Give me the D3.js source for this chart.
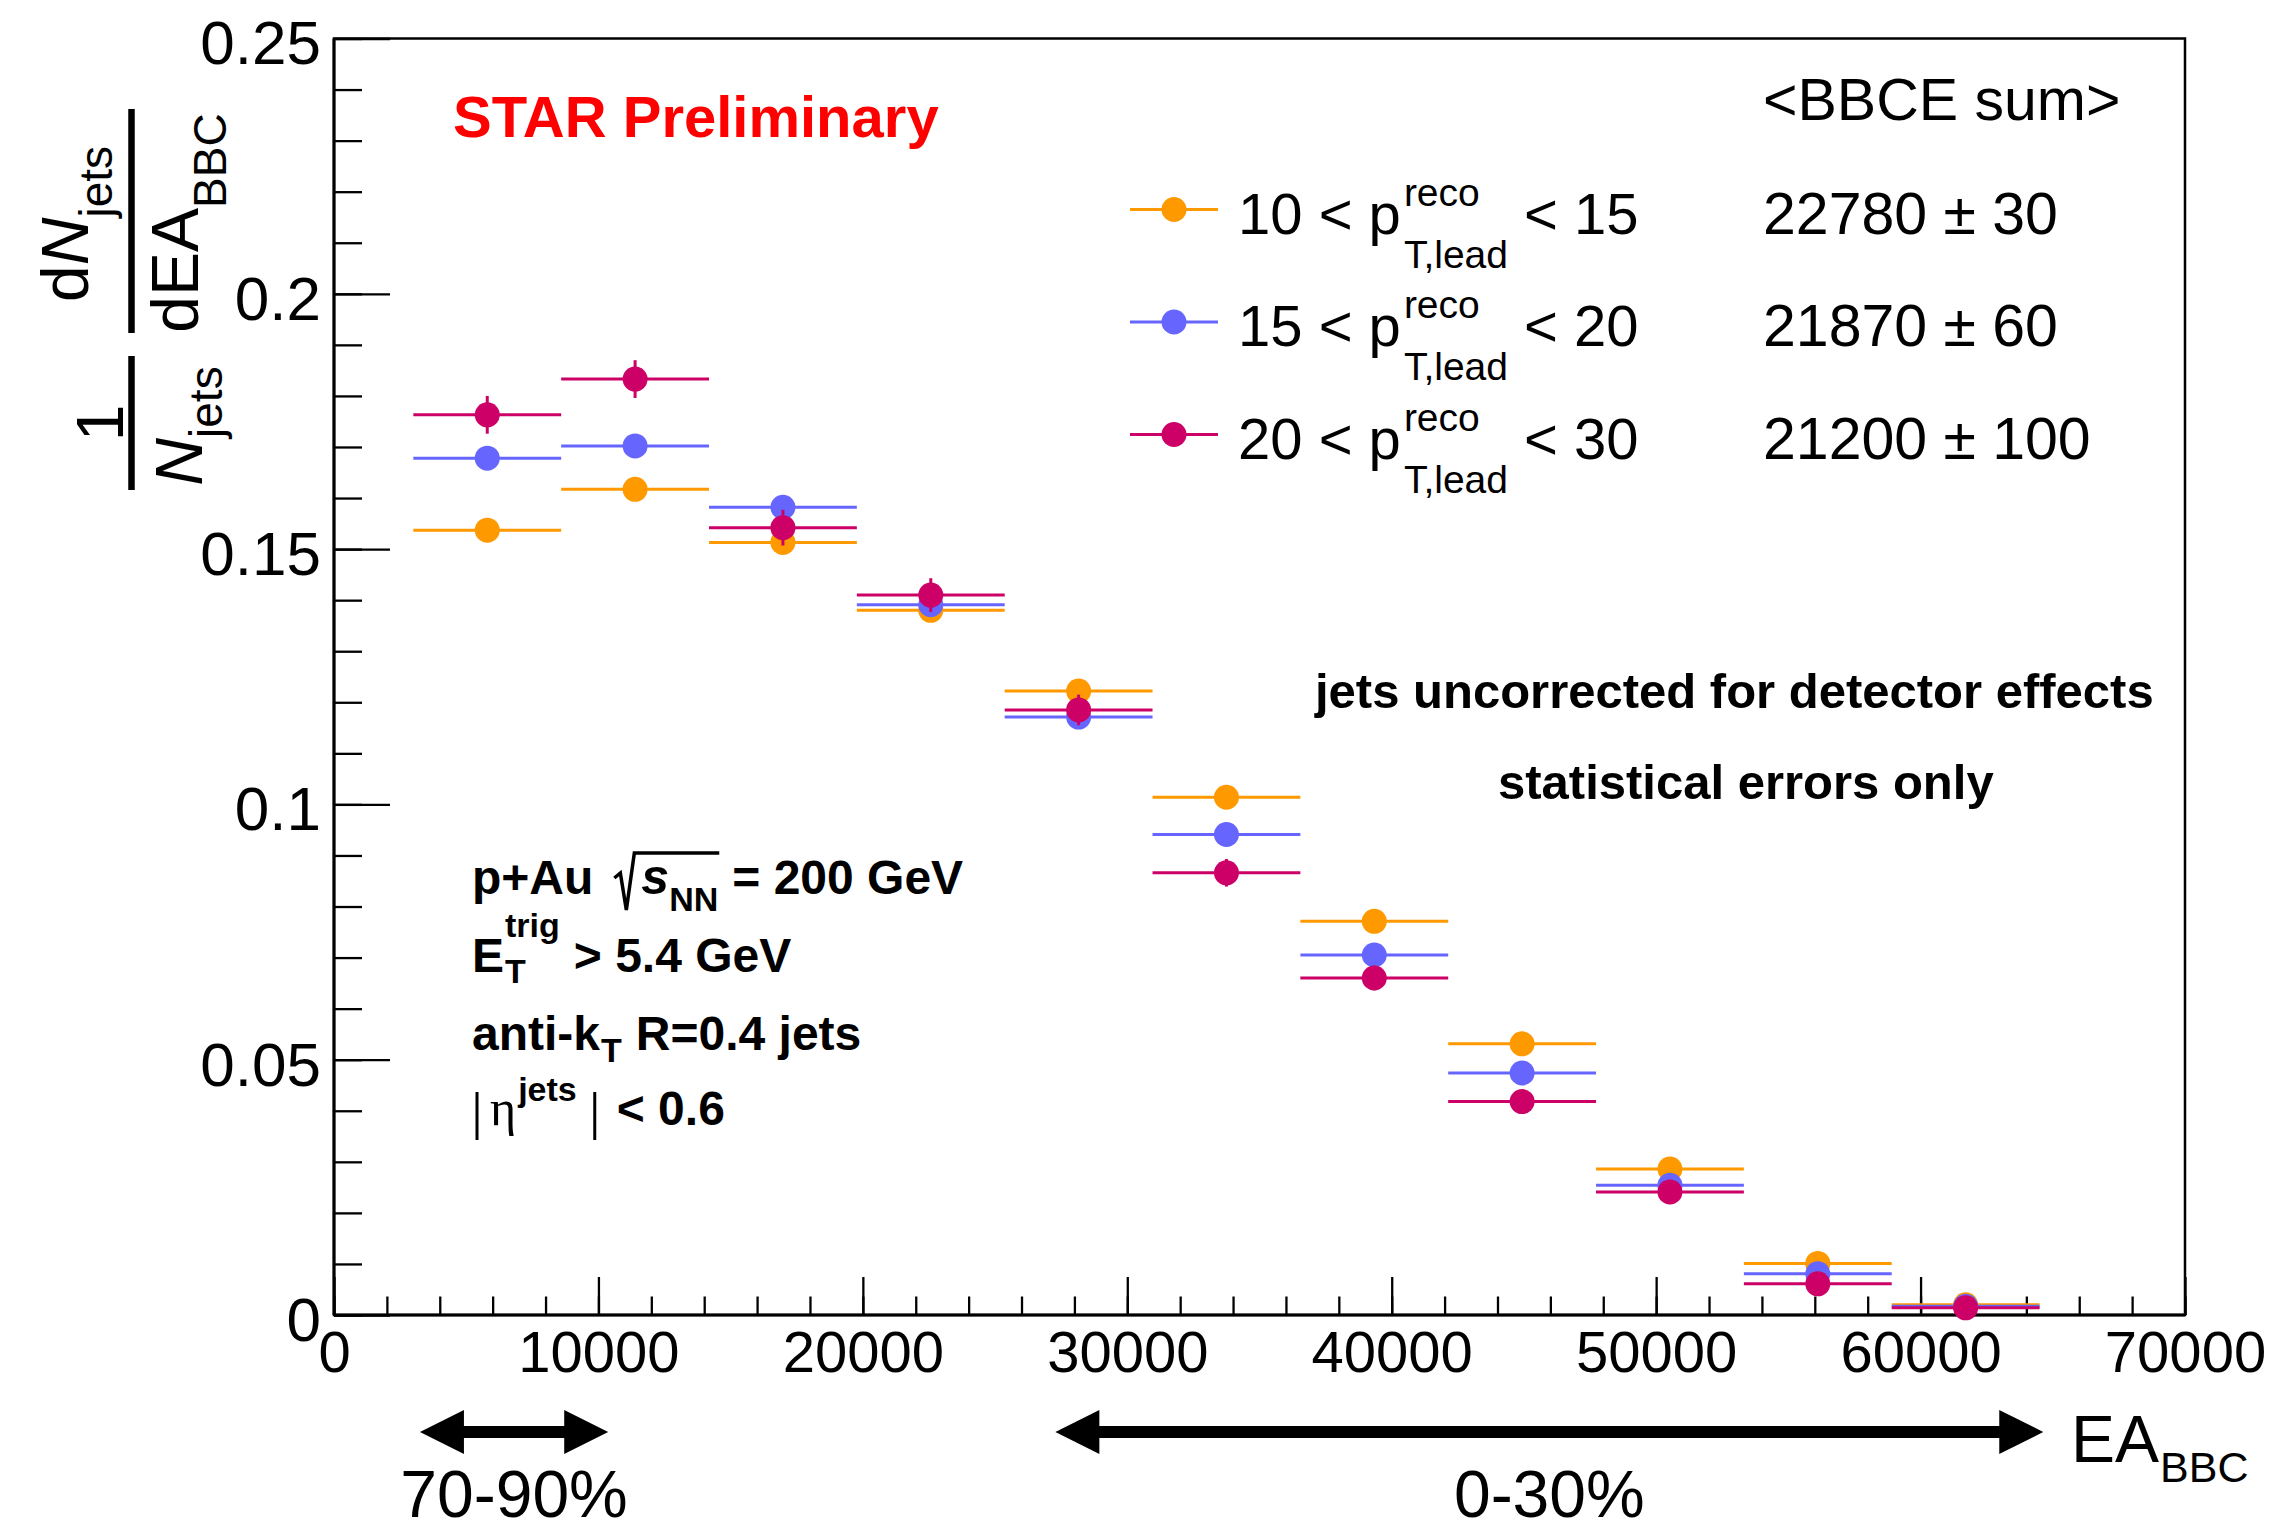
<!DOCTYPE html>
<html>
<head>
<meta charset="utf-8">
<script src="https://cdn.jsdelivr.net/npm/d3@7"></script>
<style>
body { margin: 0; background: #fff; }
text { font-family: "Liberation Sans", Arial, Helvetica, sans-serif; white-space: pre; }
</style>
</head>
<body>
<div id="chart"></div>
<script>
// EA_BBC bins (edges) and the three leading-jet pT selections
var binEdges = [3000, 8591, 14182, 19773, 25364, 30955, 36545, 42136, 47727, 53318, 58909, 64500];

var yield1015 = [0.1537, 0.1617, 0.1513, 0.1380, 0.1222, 0.1014, 0.0771, 0.0531, 0.0286, 0.0101, 0.0020];
var err1015   = [0.0012, 0.0012, 0.0011, 0.0011, 0.0010, 0.0009, 0.0008, 0.0006, 0.0005, 0.0003, 0.0001];
var yield1520 = [0.1678, 0.1702, 0.1582, 0.1391, 0.1171, 0.0941, 0.0705, 0.0474, 0.0254, 0.0081, 0.0017];
var err1520   = [0.0022, 0.0022, 0.0021, 0.0020, 0.0018, 0.0016, 0.0014, 0.0012, 0.0009, 0.0005, 0.0002];
var yield2030 = [0.1763, 0.1833, 0.1542, 0.1410, 0.1185, 0.0866, 0.0660, 0.0418, 0.0241, 0.0061, 0.0014];
var err2030   = [0.0037, 0.0037, 0.0035, 0.0033, 0.0030, 0.0027, 0.0024, 0.0020, 0.0015, 0.0009, 0.0004];

var ptRanges = [["10", "15"], ["15", "20"], ["20", "30"]];
var bbceSums = ["22780 \u00b1 30", "21870 \u00b1 60", "21200 \u00b1 100"];
var colors = ["#ff9900", "#6666ff", "#cc0066"];

var xTickValues = [0, 10000, 20000, 30000, 40000, 50000, 60000, 70000];
var xTickLabels = ["0", "10000", "20000", "30000", "40000", "50000", "60000", "70000"];
var yTickValues = [0, 0.05, 0.1, 0.15, 0.2, 0.25];
var yTickLabels = ["0", "0.05", "0.1", "0.15", "0.2", "0.25"];

var centralityLabels = ["70-90%", "0-30%"];
var centralityFrom = [3250, 27280];
var centralityTo = [10370, 64640];

var width = 2274,
    height = 1532,
    svg = d3.select('#chart')
    .append('svg')
    .attr('width', width)
    .attr('height', height);

svg.append('rect').attr('width', width).attr('height', height).attr('fill', '#fff');

var x = d3.scaleLinear().domain([0, 70000]).range([334, 2185]);
var y = d3.scaleLinear().domain([0, 0.25]).range([1315, 38.5]);

// frame
svg.append('rect')
    .attr('x', x(0)).attr('y', y(0.25))
    .attr('width', x(70000) - x(0)).attr('height', y(0) - y(0.25))
    .attr('fill', 'none').attr('stroke', '#000').attr('stroke-width', 2.5);

// y axis: major + minor ticks pointing inward
var yMajor = svg.append('g').attr('transform', 'translate(' + x(0) + ',0)')
    .call(d3.axisLeft(y).tickValues(yTickValues).tickSize(-56).tickPadding(13)
        .tickFormat(function(d, i) { return yTickLabels[i]; }));
yMajor.select('.domain').remove();
yMajor.selectAll('line').attr('stroke-width', 2.3);
yMajor.selectAll('text').attr('font-size', 62).attr('dy', '0.41em')
    .attr('font-family', '"Liberation Sans", Arial, sans-serif');

var yMinor = svg.append('g').attr('transform', 'translate(' + x(0) + ',0)')
    .call(d3.axisLeft(y).tickValues(d3.range(0, 26).map(function(i) { return i / 100; }))
        .tickSize(-28).tickFormat(''));
yMinor.select('.domain').remove();
yMinor.selectAll('line').attr('stroke-width', 2.3);

// x axis
var xMajor = svg.append('g').attr('transform', 'translate(0,' + y(0) + ')')
    .call(d3.axisBottom(x).tickValues(xTickValues).tickSize(-38).tickPadding(16)
        .tickFormat(function(d, i) { return xTickLabels[i]; }));
xMajor.select('.domain').remove();
xMajor.selectAll('line').attr('stroke-width', 2.3);
xMajor.selectAll('text').attr('font-size', 58).attr('dy', '0.7em')
    .attr('font-family', '"Liberation Sans", Arial, sans-serif');

var xMinor = svg.append('g').attr('transform', 'translate(0,' + y(0) + ')')
    .call(d3.axisBottom(x).tickValues(d3.range(0, 36).map(function(i) { return i * 2000; }))
        .tickSize(-18.5).tickFormat(''));
xMinor.select('.domain').remove();
xMinor.selectAll('line').attr('stroke-width', 2.3);

svg.append('line').attr('x1', x(0)).attr('x2', x(70000)).attr('y1', y(0)).attr('y2', y(0))
    .attr('stroke', '#000').attr('stroke-width', 3.2);
svg.append('line').attr('x1', x(0)).attr('x2', x(0)).attr('y1', y(0)).attr('y2', y(0.25))
    .attr('stroke', '#000').attr('stroke-width', 3);

// data points
var r = 12.5;
var series = [
    { values: yield1015, errors: err1015, color: colors[0] },
    { values: yield1520, errors: err1520, color: colors[1] },
    { values: yield2030, errors: err2030, color: colors[2] }
];

series.forEach(function(s) {
    var pts = s.values.map(function(v, i) {
        return { lo: binEdges[i], hi: binEdges[i + 1], v: v, e: s.errors[i] };
    });
    var g = svg.append('g');
    g.selectAll('line.h').data(pts).enter().append('line')
        .attr('x1', function(d) { return x(d.lo); })
        .attr('x2', function(d) { return x(d.hi); })
        .attr('y1', function(d) { return y(d.v); })
        .attr('y2', function(d) { return y(d.v); })
        .attr('stroke', s.color).attr('stroke-width', 3);
    g.selectAll('line.v').data(pts).enter().append('line')
        .attr('x1', function(d) { return x((d.lo + d.hi) / 2); })
        .attr('x2', function(d) { return x((d.lo + d.hi) / 2); })
        .attr('y1', function(d) { return y(d.v + d.e); })
        .attr('y2', function(d) { return y(d.v - d.e); })
        .attr('stroke', s.color).attr('stroke-width', 3);
    g.selectAll('circle').data(pts).enter().append('circle')
        .attr('cx', function(d) { return x((d.lo + d.hi) / 2); })
        .attr('cy', function(d) { return y(d.v); })
        .attr('r', r)
        .attr('fill', s.color);
});

// helper: lay out a run of text pieces, sup/sub stacked when stack is set
function runText(parent, x0, y0, pieces) {
    var prevStart = x0, cursor = x0;
    pieces.forEach(function(p) {
        var start = p.stack ? prevStart : cursor + (p.gap || 0);
        var t = parent.append('text')
            .attr('x', start).attr('y', y0 + (p.dy || 0))
            .attr('font-size', p.size)
            .attr('font-weight', p.bold ? 'bold' : 'normal')
            .attr('font-style', p.italic ? 'italic' : 'normal')
            .attr('fill', p.color || '#000')
            .text(p.t);
        if (p.family) t.style('font-family', p.family);
        var w = t.node().getComputedTextLength();
        cursor = p.stack ? Math.max(cursor, start + w) : start + w;
        prevStart = start;
        p.start = start;
        p.end = start + w;
    });
    return cursor;
}

// STAR Preliminary
svg.append('text').attr('x', 453).attr('y', 137).attr('font-size', 58)
    .attr('font-weight', 'bold').attr('fill', '#ff0000').text('STAR Preliminary');

// legend
svg.append('text').attr('x', 1763).attr('y', 120).attr('font-size', 59).text('<BBCE sum>');
var legendY = [209.5, 322, 434.5];
ptRanges.forEach(function(pr, i) {
    var ly = legendY[i];
    svg.append('line').attr('x1', 1130).attr('x2', 1218).attr('y1', ly).attr('y2', ly)
        .attr('stroke', colors[i]).attr('stroke-width', 3);
    svg.append('circle').attr('cx', 1174).attr('cy', ly).attr('r', r).attr('fill', colors[i]);
    runText(svg, 1238, ly + 24, [
        { t: pr[0] + ' < p', size: 58 },
        { t: 'reco', size: 39, dy: -28, gap: 3 },
        { t: 'T,lead', size: 39, dy: 34, stack: true },
        { t: '< ' + pr[1], size: 58, gap: 16 }
    ]);
    svg.append('text').attr('x', 1763).attr('y', ly + 24).attr('font-size', 59).text(bbceSums[i]);
});

// notes
svg.append('text').attr('x', 1315).attr('y', 708).attr('font-size', 49).attr('font-weight', 'bold')
    .text('jets uncorrected for detector effects');
svg.append('text').attr('x', 1498).attr('y', 799).attr('font-size', 49).attr('font-weight', 'bold')
    .text('statistical errors only');

// p+Au sqrt(sNN) = 200 GeV
var l1 = [
    { t: 'p+Au', size: 48, bold: true },
    { t: 's', size: 50, bold: true, italic: true, gap: 48 },
    { t: 'NN', size: 34, bold: true, dy: 17, gap: 0 },
    { t: '= 200 GeV', size: 48, bold: true, gap: 14 }
];
runText(svg, 472, 894, l1);
var sx = l1[0].end + 21;
svg.append('path')
    .attr('d', 'M' + sx + ',878 L' + (sx + 6) + ',873 L' + (sx + 12) + ',910 L' + (sx + 20) + ',853 L' + (l1[2].end + 1) + ',853')
    .attr('fill', 'none').attr('stroke', '#000').attr('stroke-width', 3.5);

runText(svg, 472, 972, [
    { t: 'E', size: 48, bold: true },
    { t: 'trig', size: 34, bold: true, dy: -35, gap: 1 },
    { t: 'T', size: 34, bold: true, dy: 11, stack: true },
    { t: '> 5.4 GeV', size: 48, bold: true, gap: 14 }
]);

runText(svg, 472, 1050, [
    { t: 'anti-k', size: 48, bold: true },
    { t: 'T', size: 34, bold: true, dy: 12, gap: 1 },
    { t: 'R=0.4 jets', size: 48, bold: true, gap: 14 }
]);

var l4 = [
    { t: '\u03b7', size: 50, family: '"Liberation Serif", "DejaVu Serif", serif' },
    { t: 'jets', size: 34, bold: true, dy: -24, gap: 2 }
];
runText(svg, 490, 1125, l4);
svg.append('line').attr('x1', 477).attr('x2', 477).attr('y1', 1092).attr('y2', 1140)
    .attr('stroke', '#000').attr('stroke-width', 3);
var bar2 = l4[1].end + 18;
svg.append('line').attr('x1', bar2).attr('x2', bar2).attr('y1', 1092).attr('y2', 1140)
    .attr('stroke', '#000').attr('stroke-width', 3);
svg.append('text').attr('x', bar2 + 22).attr('y', 1125).attr('font-size', 48)
    .attr('font-weight', 'bold').text('< 0.6');

// y-axis title, rotated: local (lx, ly) -> screen (ly, -lx)
var yt = svg.append('g').attr('transform', 'rotate(-90)');
yt.append('text').attr('x', -423).attr('y', 123).attr('font-size', 66)
    .attr('text-anchor', 'middle').text('1');
yt.append('line').attr('x1', -490).attr('x2', -356).attr('y1', 131.5).attr('y2', 131.5)
    .attr('stroke', '#000').attr('stroke-width', 6.5);
var den1 = yt.append('text').attr('x', -426).attr('y', 202).attr('font-size', 66)
    .attr('text-anchor', 'middle');
den1.append('tspan').attr('font-style', 'italic').text('N');
den1.append('tspan').attr('font-size', 46).attr('dy', 20).text('jets');

var num2 = yt.append('text').attr('x', -224).attr('y', 88).attr('font-size', 66)
    .attr('text-anchor', 'middle');
num2.append('tspan').text('d');
num2.append('tspan').attr('font-style', 'italic').text('N');
num2.append('tspan').attr('font-size', 46).attr('dy', 24).text('jets');
yt.append('line').attr('x1', -333).attr('x2', -109).attr('y1', 131.5).attr('y2', 131.5)
    .attr('stroke', '#000').attr('stroke-width', 6.5);
var den2 = yt.append('text').attr('x', -223).attr('y', 198).attr('font-size', 66)
    .attr('text-anchor', 'middle');
den2.append('tspan').text('dEA');
den2.append('tspan').attr('font-size', 46).attr('dy', 28).text('BBC');

// EA_BBC label
runText(svg, 2071, 1462, [
    { t: 'EA', size: 66 },
    { t: 'BBC', size: 43, dy: 20, gap: 1 }
]);

// centrality arrows
var arrowY = 1432, head = 44, headH = 22, shaft = 6;
centralityLabels.forEach(function(lab, i) {
    var a = x(centralityFrom[i]), b = x(centralityTo[i]);
    var pts = [
        [a, arrowY], [a + head, arrowY - headH], [a + head, arrowY - shaft],
        [b - head, arrowY - shaft], [b - head, arrowY - headH], [b, arrowY],
        [b - head, arrowY + headH], [b - head, arrowY + shaft],
        [a + head, arrowY + shaft], [a + head, arrowY + headH]
    ];
    svg.append('polygon').attr('points', pts.map(function(p) { return p.join(','); }).join(' '))
        .attr('fill', '#000');
    svg.append('text').attr('x', (a + b) / 2).attr('y', 1517).attr('font-size', 66)
        .attr('text-anchor', 'middle').text(lab);
});
</script>
</body>
</html>
